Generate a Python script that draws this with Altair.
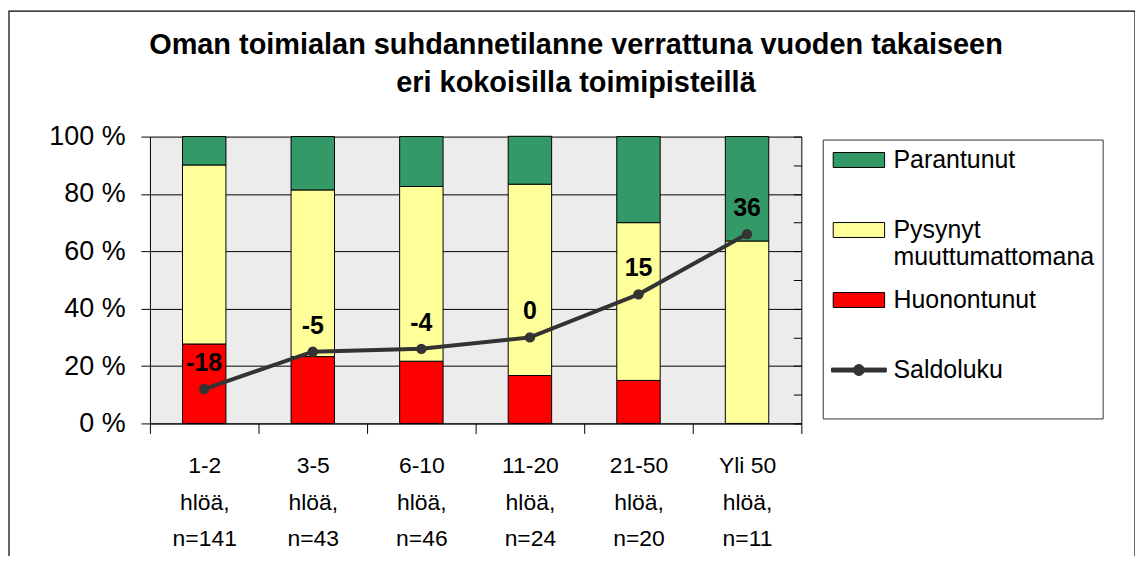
import altair as alt
import pandas as pd

# ---------------- data ----------------
categories = ["1-2\nhlöä,\nn=141", "3-5\nhlöä,\nn=43", "6-10\nhlöä,\nn=46",
              "11-20\nhlöä,\nn=24", "21-50\nhlöä,\nn=20", "Yli 50\nhlöä,\nn=11"]
huonontunut = [27.7, 23.3, 21.7, 16.7, 15.0, 0.0]
pysynyt = [62.4, 58.1, 60.9, 66.7, 55.0, 63.6]
parantunut = [9.9, 18.6, 17.4, 16.7, 30.0, 36.4]
saldoluku = [-18, -5, -4, 0, 15, 36]

series = ["Parantunut", "Pysynyt muuttumattomana", "Huonontunut", "Saldoluku"]
colors = ["#339966", "#FFFF99", "#FF0000", "#333333"]
y_ticks = [0, 20, 40, 60, 80, 100]
saldo_ticks = [-30, -20, -10, 0, 10, 20, 30, 40, 50, 60, 70]
title_lines = ["Oman toimialan suhdannetilanne verrattuna vuoden takaiseen",
               "eri kokoisilla toimipisteillä"]

# ---------------- tables ----------------
rows = []
for i, c in enumerate(categories):
    rows.append({"cat": c, "series": "Huonontunut", "value": huonontunut[i], "ord": 0})
    rows.append({"cat": c, "series": "Pysynyt muuttumattomana", "value": pysynyt[i], "ord": 1})
    rows.append({"cat": c, "series": "Parantunut", "value": parantunut[i], "ord": 2})
df_bars = pd.DataFrame(rows)
df_line = pd.DataFrame({"cat": categories, "saldo": saldoluku,
                        "label": [str(v) for v in saldoluku]})

FONT = "Liberation Sans"
W, H = 654, 288

# legend symbol shapes (unit space scaled by sqrt(size)/2 = 11.5 px)
RECT = "M-2.243,-0.652H2.243V0.652H-2.243Z"
LINE = ("M-2.391,-0.174H2.391V0.174H-2.391Z"
        "M0.478,0A0.478,0.478,0,1,1,-0.478,0A0.478,0.478,0,1,1,0.478,0Z")
IS_SALDO = "datum.value === 'Saldoluku'"

legend = alt.Legend(
    title=None,
    orient="none", legendX=675.5, legendY=3, padding=8,
    strokeColor="#333333", fillColor="white",
    symbolSize=529, symbolStrokeWidth=1, symbolOffset=15.8,
    symbolType=alt.ExprRef(expr=f"{IS_SALDO} ? '{LINE}' : '{RECT}'"),
    symbolStrokeColor=alt.ExprRef(expr=f"{IS_SALDO} ? '#333333' : 'black'"),
    symbolOpacity=1,
    labelFontSize=25, labelFont=FONT, labelColor="black", labelOffset=22.2,
    labelLimit=400, rowPadding=17.3, labelBaseline="middle",
    labelExpr="datum.label == 'Pysynyt muuttumattomana' ? ['Pysynyt', 'muuttumattomana'] : [datum.label, '']",
)

color_scale = alt.Scale(domain=series, range=colors)

x_enc = alt.X(
    "cat:N", sort=categories,
    scale=alt.Scale(paddingInner=0, paddingOuter=0),
    axis=alt.Axis(title=None, labelAngle=0, labelExpr="split(datum.label, '\\n')",
                  labelFontSize=23, labelLineHeight=37, labelFont=FONT, labelColor="black",
                  labelBaseline="top", labelPadding=21,
                  tickBand="extent", tickSize=10, tickColor="black",
                  domainColor="black", grid=False),
)

bars = alt.Chart(df_bars).mark_bar(width={"band": 0.4}, stroke="black", strokeWidth=1).encode(
    x=x_enc,
    y=alt.Y("value:Q", stack="zero", scale=alt.Scale(domain=[0, 100], nice=False),
            axis=alt.Axis(orient="left", values=y_ticks, title=None,
                          labelExpr="datum.value + ' %'", labelFontSize=27, labelFont=FONT,
                          labelColor="black", labelPadding=16, tickSize=9, tickColor="black",
                          domainColor="black", grid=True, gridColor="black", gridOpacity=1)),
    color=alt.Color("series:N", scale=color_scale, legend=legend),
    order=alt.Order("ord:Q"),
)

y_saldo = alt.Y("saldo:Q", scale=alt.Scale(domain=[-30, 70], nice=False),
                axis=alt.Axis(orient="left", offset=-W, labels=False, grid=False, title=None,
                              values=saldo_ticks, tickSize=8, tickColor="black",
                              domainColor="black"))

base_line = alt.Chart(df_line)
line = base_line.mark_line(strokeWidth=4, color="#333333").encode(x=x_enc, y=y_saldo)
points = base_line.mark_point(filled=True, size=110, opacity=1, color="#333333").encode(
    x=x_enc, y=y_saldo)
labels = base_line.mark_text(dy=-26, fontSize=25, fontWeight="bold", font=FONT,
                             color="black", baseline="middle").encode(
    x=x_enc, y=y_saldo, text=alt.Text("label:N"))

frame = alt.Chart(alt.Data(values=[{"a": 1}])).mark_rect(
    fill="transparent", stroke="black", strokeWidth=1.2).encode(
    x=alt.value(-141.5), x2=alt.value(989), y=alt.value(-126), y2=alt.value(700))

chart = alt.layer(
    frame, bars, alt.layer(line, points, labels)
).resolve_scale(y="independent").properties(
    width=W, height=H,
    autosize=alt.AutoSizeParams(type="none"),
    padding={"left": 142.5, "top": 128, "right": 335, "bottom": 132},
    title=alt.Title(text=title_lines, fontSize=29, font=FONT, fontWeight="bold",
                    color="black", anchor="middle", frame="bounds", lineHeight=38,
                    offset=0, dy=88, dx=4),
).configure_view(fill="#ececec", strokeWidth=0)

chart.save("out.html", embed_options={"renderer": "svg", "actions": False})
